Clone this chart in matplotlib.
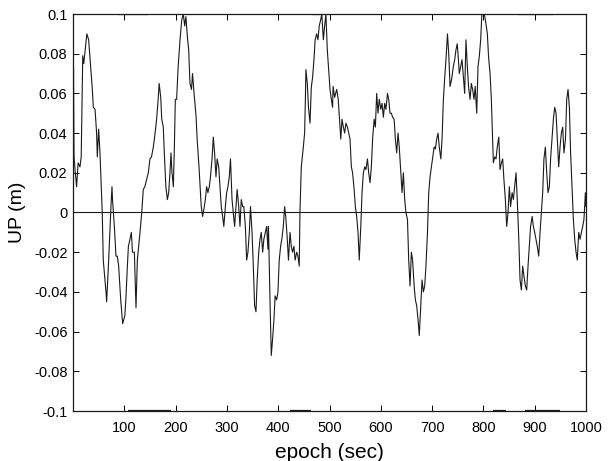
"""
UP component error vs epoch, MATLAB-style line plot.
"""

import matplotlib
matplotlib.use("Agg")
import matplotlib.pyplot as plt
import matplotlib.ticker as mticker

plt.rcParams["font.family"] = ["Liberation Sans", "DejaVu Sans"]

# epoch (sec) and UP (m)
epoch = [
    0, 1, 2, 4.5, 7, 10, 13.6, 16, 19, 21, 27, 30.5, 34.4, 37.7, 39.6, 43, 46,
    47.4, 50, 52.6, 54.6, 57, 59, 61.7, 64.3, 65.6, 69, 72, 74, 76, 77, 80.6,
    83.8, 86.4, 89, 93, 96.8, 101, 103, 106, 108, 111, 113.7, 116, 119.6, 121.5,
    122.8, 125.4, 128, 130.6, 134, 137, 140, 143.6, 146.8, 150, 153, 156.6, 160,
    163, 166, 168, 171, 173, 176, 178, 181, 184, 186.5, 189, 191, 193, 195.6,
    197.5, 199.5, 202, 205, 208.6, 212, 215, 217.7, 220, 223.5, 225.5, 228, 231,
    233, 236, 240, 242, 245.6,
    250, 252.7, 255, 258, 260.5, 263, 265.7, 268, 271, 273.5, 276, 278.7, 281,
    284, 286.5, 289, 291.7, 294, 297, 299.5, 302, 304.7, 307, 310, 312.5, 315,
    317.7, 320, 323, 325.5, 328, 330.7, 333, 336, 338.5, 341, 343.7, 346, 349,
    351.5, 354, 356.7, 359, 362, 364.5, 367, 369.7, 372, 375, 377.5, 380, 381,
    384, 386.5, 389, 391.7, 394, 397, 399.5, 402, 404.7, 407, 410, 412.5, 415,
    417.7, 420, 423, 425.5, 428, 430.7, 433, 436, 438.5, 441, 442.4, 445, 449,
    451.5, 453, 454, 456.7, 459, 462, 464.5, 467, 469.7, 472, 475, 477.5, 480,
    482.7, 485, 488, 490.5, 493, 495.7, 498, 501,
    503.6, 506, 507, 510, 514, 517, 520.5, 522, 524.4, 527, 529.6, 532, 535,
    537.4, 540, 542.6, 545, 548, 550.4, 553, 555.6, 558, 561, 563.4, 566, 568.6,
    571, 574, 576.4, 579, 581.6, 584, 587, 589.4, 592, 594.6, 597, 600, 602.4,
    605, 607.6, 610, 613, 615.4, 618, 620.6, 623, 626, 628.4, 631, 633.6, 636,
    639, 641.4, 644, 646.6, 649, 652, 654.4, 657, 659.6, 662, 665, 667.4, 670,
    672.6, 675, 678, 680.4, 683, 685.6, 688, 691, 693.4, 696, 698.6, 701, 704,
    706.4, 709, 711.6, 714, 717, 719.4, 722, 724.6, 727, 730, 732.4, 735, 738,
    741.4, 744, 746.6, 749, 750.5, 753,
    755.7, 758.3, 761, 763.5, 766, 768.7, 771, 774, 776.5, 779, 781.7, 784, 787,
    789.5, 792, 794.7, 797, 800, 802.5, 805, 807.7, 810, 813, 815.5, 818, 819.4,
    822, 824.6, 827, 830, 832.4, 835, 837.6, 840, 842.8, 845.4, 848, 850.6, 853,
    856, 858.4, 861, 863.6, 866, 869, 871.4, 874, 876.6, 879, 881.8, 884.4, 887,
    889.6, 892, 895, 897.4, 900, 902.6, 905, 907.8, 910.4, 913, 915.6, 918,
    920.8, 923.4, 926, 928.6, 931, 933.8, 936.4, 939, 941.6, 944, 946.8, 949.4,
    952, 954.6, 957, 960, 962.4, 965, 967.6, 970, 972.8, 975.4, 978, 980.6, 983,
    985.8, 988.4, 991, 993.6, 996, 998.8, 1000,
]
up = [
    0.035, 0.073, 0.028, 0.020, 0.013, 0.025, 0.023, 0.028, 0.079, 0.075, 0.090,
    0.087, 0.0735, 0.062, 0.053, 0.052, 0.040, 0.028, 0.042, 0.030, 0.0166, 0.0,
    -0.024, -0.032, -0.040, -0.045, -0.027, -0.0085, 0.003, 0.013, 0.0065,
    -0.007, -0.022, -0.022, -0.027, -0.044, -0.056, -0.052, -0.044, -0.027,
    -0.017, -0.0135, -0.010, -0.020, -0.020, -0.037, -0.048, -0.024, -0.017,
    -0.010, 0.0, 0.0116, 0.013, 0.0166, 0.020, 0.027, 0.028, 0.033, 0.040,
    0.047, 0.057, 0.065, 0.058, 0.047, 0.043, 0.030, 0.013, 0.0065, 0.010,
    0.020, 0.030, 0.020, 0.013, 0.032, 0.057, 0.057, 0.0735, 0.087, 0.097,
    0.100, 0.094, 0.0987, 0.087, 0.082, 0.065, 0.062, 0.070, 0.060, 0.048,
    0.037, 0.023,
    0.003, -0.002, 0.0015, 0.0065, 0.013, 0.010, 0.013, 0.018, 0.027, 0.038,
    0.030, 0.018, 0.027, 0.023, 0.013, 0.003, -0.002, -0.007, 0.003, 0.010,
    0.013, 0.018, 0.027, 0.0065, 0.0, -0.007, 0.003, 0.0116, 0.003, -0.007,
    0.0065, 0.003, 0.003, -0.007, -0.024, -0.020, -0.010, 0.003, -0.010,
    -0.027, -0.047, -0.050, -0.034, -0.020, -0.0135, -0.010, -0.020, -0.0135,
    -0.010, -0.007, -0.0185, -0.007, -0.044, -0.072, -0.064, -0.054, -0.042,
    -0.044, -0.040, -0.024, -0.017, -0.0135, -0.007, 0.003, -0.003, -0.0135,
    -0.024, -0.010, -0.017, -0.020, -0.017, -0.024, -0.020, -0.022, -0.027,
    0.0, 0.023, 0.033, 0.040, 0.057, 0.072, 0.065, 0.053, 0.045, 0.063, 0.068,
    0.077, 0.087, 0.090, 0.087, 0.094, 0.097, 0.100, 0.087, 0.094, 0.100,
    0.082, 0.0735, 0.062,
    0.057, 0.053, 0.0635, 0.058, 0.062, 0.057, 0.043, 0.037, 0.047, 0.043,
    0.040, 0.045, 0.043, 0.040, 0.037, 0.023, 0.020, 0.0116, 0.003, -0.002,
    -0.010, -0.024, -0.007, 0.010, 0.020, 0.023, 0.0216, 0.027, 0.020, 0.015,
    0.023, 0.037, 0.047, 0.043, 0.060, 0.050, 0.057, 0.052, 0.055, 0.048,
    0.055, 0.052, 0.060, 0.057, 0.050, 0.050, 0.048, 0.047, 0.037, 0.030,
    0.040, 0.033, 0.020, 0.010, 0.020, 0.0065, 0.0, -0.0035, -0.024, -0.037,
    -0.020, -0.024, -0.037, -0.044, -0.047, -0.054, -0.062, -0.047, -0.034,
    -0.040, -0.037, -0.027, -0.010, 0.010, 0.018, 0.023, 0.028, 0.033, 0.032,
    0.037, 0.040, 0.033, 0.027, 0.037, 0.057, 0.068, 0.077, 0.090, 0.080,
    0.0635, 0.067, 0.0735, 0.077, 0.082, 0.085, 0.080, 0.070,
    0.0735, 0.077, 0.068, 0.060, 0.087, 0.0735, 0.0635, 0.057, 0.065, 0.062,
    0.057, 0.0635, 0.050, 0.0735, 0.0786, 0.087, 0.100, 0.100, 0.099, 0.095,
    0.090, 0.0786, 0.070, 0.057, 0.037, 0.025, 0.028, 0.027, 0.033, 0.038,
    0.0216, 0.025, 0.027, 0.0166, 0.0065, -0.007, 0.0, 0.013, 0.003, 0.010,
    0.0065, 0.013, 0.020, 0.0065, -0.0135, -0.034, -0.039, -0.027, -0.032,
    -0.037, -0.039, -0.027, -0.017, -0.007, -0.002, -0.007, -0.010, -0.0135,
    -0.017, -0.022, -0.010, 0.0, 0.010, 0.027, 0.033, 0.020, 0.010, 0.013,
    0.027, 0.037, 0.047, 0.053, 0.050, 0.037, 0.023, 0.033, 0.040, 0.043,
    0.030, 0.037, 0.057, 0.062, 0.053, 0.030, 0.013, -0.0035, -0.0135, -0.020,
    -0.024, -0.010, -0.0135, -0.010, -0.007, -0.0035, 0.010, 0.003,
]

# flag segments that sit on the frame edges (epoch start, end)
top_flags = [(88, 146), (466, 482), (868, 936)]
bottom_flags = [(107, 191), (423, 464), (818, 845), (881, 949)]

x_ticks = [100, 200, 300, 400, 500, 600, 700, 800, 900, 1000]
y_ticks = [-0.1, -0.08, -0.06, -0.04, -0.02, 0, 0.02, 0.04, 0.06, 0.08, 0.1]


def matlab_fmt(v, _):
    if abs(v) < 1e-12:
        return "0"
    return f"{v:g}"


fig = plt.figure(figsize=(6.13, 4.61), dpi=100)
ax = fig.add_axes([73 / 613, 50 / 461, 513 / 613, 397 / 461])

ax.plot(epoch, up, color="#1a1a1a", lw=0.8)
ax.axhline(0, color="#1a1a1a", lw=0.8)
for a, b in top_flags:
    ax.plot([a, b], [0.1, 0.1], color="#1a1a1a", lw=1.6, solid_capstyle="butt")
for a, b in bottom_flags:
    ax.plot([a, b], [-0.1, -0.1], color="#1a1a1a", lw=1.6, solid_capstyle="butt")

ax.set_xlim(0, 1000)
ax.set_ylim(-0.1, 0.1)
ax.set_xticks(x_ticks)
ax.set_yticks(y_ticks)
ax.yaxis.set_major_formatter(mticker.FuncFormatter(matlab_fmt))
ax.tick_params(direction="in", top=True, right=True, length=4, width=0.7,
               labelsize=10.5)
ax.tick_params(axis="x", pad=7)
ax.tick_params(axis="y", pad=4)
for s in ax.spines.values():
    s.set_linewidth(0.9)
    s.set_color("#1a1a1a")

ax.set_xlabel("epoch (sec)", fontsize=15, labelpad=6)
ax.set_ylabel("UP (m)", fontsize=14, labelpad=6)

fig.savefig("out.png", dpi=100)
